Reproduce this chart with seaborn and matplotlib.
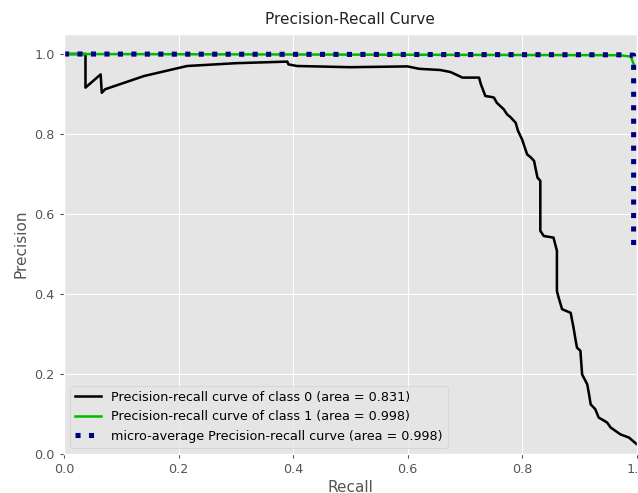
import matplotlib
matplotlib.use("Agg")
import matplotlib.pyplot as plt
import seaborn as sns
import pandas as pd

# ---- data ----
class0_recall = [0.0, 0.0375, 0.0375, 0.064, 0.066, 0.072, 0.14, 0.215, 0.30, 0.39, 0.392,
                 0.407, 0.50, 0.60, 0.62, 0.657, 0.675, 0.696, 0.725, 0.728, 0.736, 0.745,
                 0.751, 0.756, 0.762, 0.768, 0.774, 0.780, 0.789, 0.793, 0.800, 0.804, 0.809,
                 0.815, 0.821, 0.824, 0.827, 0.832, 0.832, 0.838, 0.855, 0.861,
                 0.861, 0.864, 0.870, 0.885, 0.890, 0.893, 0.896, 0.902, 0.905, 0.914, 0.917,
                 0.920, 0.928, 0.934, 0.945, 0.949, 0.955, 0.972, 0.987, 1.0]
class0_precision = [1.0, 1.0, 0.916, 0.949, 0.903, 0.912, 0.945, 0.970, 0.977, 0.981, 0.974,
                    0.970, 0.967, 0.969, 0.963, 0.960, 0.955, 0.941, 0.941, 0.925, 0.895, 0.893,
                    0.891, 0.878, 0.870, 0.862, 0.849, 0.842, 0.828, 0.808, 0.787, 0.770, 0.749,
                    0.742, 0.733, 0.712, 0.691, 0.683, 0.558, 0.545, 0.541, 0.508,
                    0.4075, 0.391, 0.362, 0.353, 0.316, 0.290, 0.266, 0.258, 0.199, 0.174, 0.150,
                    0.124, 0.112, 0.091, 0.082, 0.078, 0.066, 0.049, 0.041, 0.025]
class1_recall = [0.0, 0.97, 0.99, 0.995]
class1_precision = [1.0, 0.997, 0.994, 0.975]
micro_recall = [0.0, 0.97, 0.995, 0.995]
micro_precision = [1.0, 0.998, 0.997, 0.51]

labels = ["Precision-recall curve of class 0 (area = 0.831)",
          "Precision-recall curve of class 1 (area = 0.998)",
          "micro-average Precision-recall curve (area = 0.998)"]
title = "Precision-Recall Curve"
x_ticks = [0.0, 0.2, 0.4, 0.6, 0.8, 1.0]
y_ticks = [0.0, 0.2, 0.4, 0.6, 0.8, 1.0]

plt.style.use("ggplot")
plt.rcParams["font.family"] = ["DejaVu Sans"]
s = 0.915
base = 10 * s

fig = plt.figure(figsize=(6.38, 4.93), dpi=100)
ax = fig.add_axes([64 / 638, 39 / 493, 572.5 / 638, 420 / 493])

df0 = pd.DataFrame({"Recall": class0_recall, "Precision": class0_precision})
df1 = pd.DataFrame({"Recall": class1_recall, "Precision": class1_precision})
dfm = pd.DataFrame({"Recall": micro_recall, "Precision": micro_precision})

sns.lineplot(data=df0, x="Recall", y="Precision", sort=False, estimator=None,
             color="black", lw=2 * s, label=labels[0], ax=ax)
sns.lineplot(data=df1, x="Recall", y="Precision", sort=False, estimator=None,
             color=plt.cm.nipy_spectral(0.5), lw=2 * s, label=labels[1], ax=ax)
sns.lineplot(data=dfm, x="Recall", y="Precision", sort=False, estimator=None,
             color="navy", lw=4 * s, linestyle=":", label=labels[2], ax=ax)

ax.set_xlim(0.0, 1.0)
ax.set_ylim(0.0, 1.05)
ax.set_xticks(x_ticks)
ax.set_yticks(y_ticks)
ax.tick_params(labelsize=base, colors="#555555", length=3.5 * s)
ax.set_xlabel("Recall", fontsize=base * 1.2, color="#555555", labelpad=3)
ax.set_ylabel("Precision", fontsize=base * 1.2, color="#555555")
ax.set_title(title, fontsize=base * 1.2, color="#222222", pad=7)
leg = ax.legend(loc="lower left", fontsize=base)

fig.savefig("out.png", dpi=100)
